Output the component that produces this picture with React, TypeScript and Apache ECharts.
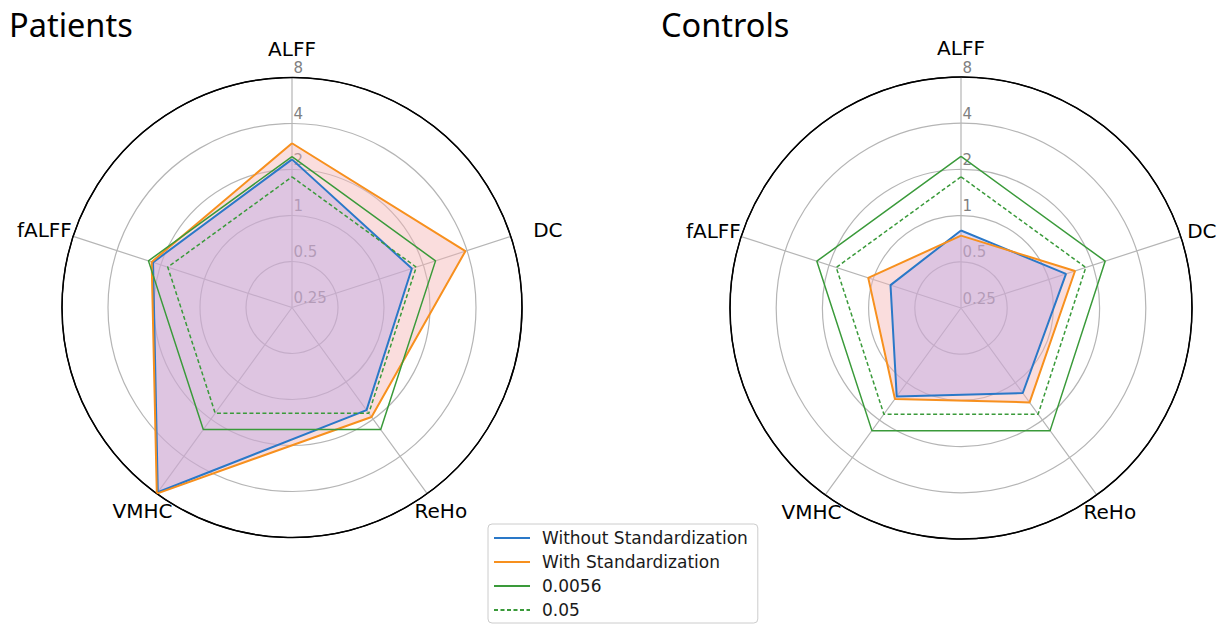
import { useEffect, useRef } from 'react';
import * as echarts from 'echarts';

// Radar axes, clockwise from the top
const AXIS_NAMES = ['ALFF', 'DC', 'ReHo', 'VMHC', 'fALFF'];
// Radial (log2) tick values
const RADIAL_TICKS = [0.25, 0.5, 1, 2, 4, 8];
const SERIES_NAMES = ['Without Standardization', 'With Standardization', '0.0056', '0.05'];
const PANEL_TITLES = ['Patients', 'Controls'];

// Patients
const patientsWithout = [2.33, 1.67, 1.69, 7.8, 2.26];
const patientsWith = [2.97, 3.9, 1.92, 8.0, 2.31];
// Controls
const controlsWithout = [0.8, 1.31, 1.21, 1.29, 0.76];
const controlsWith = [0.74, 1.51, 1.44, 1.35, 1.08];
// Significance thresholds
const threshold0056 = [2.43, 2.43, 2.43, 2.43, 2.43];
const threshold005 = [1.79, 1.79, 1.79, 1.79, 1.79];

const PANEL_DATA = [
  { without: patientsWithout, withStd: patientsWith },
  { without: controlsWithout, withStd: controlsWith },
];

// Layout / style
const PANEL_LAYOUT = [
  { center: [292, 307.5], radius: 230, titleLeft: 9, dcPadLeft: 51 },
  { center: [961, 308], radius: 231, titleLeft: 661, dcPadLeft: 36 },
];
const BLUE = '#2a78c8';
const ORANGE = '#f7901e';
const GREEN = '#3a9a3a';
const GRID_GRAY = '#b5b5b5';
const TICK_GRAY = '#7f7f7f';
const FILL_ORANGE = 'rgba(245,180,180,0.45)';
const FILL_BLUE = 'rgba(179,163,233,0.4)';
const FONT = 'DejaVu Sans';
const NAME_SIZE = 20;

// padding [top, right, bottom, left] that places each spoke name
// (the top spoke's name is the radius axis name)
const NAME_PADDING: Record<string, number[]> = {
  DC: [0, 0, 31, 51],
  ReHo: [32, 0, 0, 5],
  VMHC: [32, 2, 0, 0],
  fALFF: [0, 30, 31, 0],
};

function closedRing(values: number[]) {
  const step = 360 / values.length;
  const pts = values.map((v, i) => [v, i * step]);
  pts.push([values[0], 360]);
  return pts;
}

function buildOption() {
  const step = 360 / AXIS_NAMES.length;

  const polar = PANEL_LAYOUT.map((p) => ({ center: p.center, radius: p.radius }));

  const angleAxis = PANEL_LAYOUT.map((p, pi) => {
    const rich: Record<string, any> = {};
    AXIS_NAMES.forEach((n, i) => {
      if (!NAME_PADDING[n]) return;
      const pad = n === 'DC' ? [0, 0, 31, p.dcPadLeft] : NAME_PADDING[n];
      rich['k' + i] = {
        fontFamily: FONT,
        fontSize: NAME_SIZE,
        color: '#000',
        padding: pad,
      };
    });
    return {
      polarIndex: pi,
      type: 'value',
      min: 0,
      max: 360,
      interval: step,
      startAngle: 90,
      clockwise: true,
      axisLine: { show: true, lineStyle: { color: '#000', width: 1.5 } },
      axisTick: { show: false },
      splitLine: { show: true, lineStyle: { color: GRID_GRAY, width: 1.2 } },
      axisLabel: {
        show: true,
        margin: 200 - p.radius,
        formatter: (v: number) => {
          const idx = Math.round(v / step);
          if (idx <= 0 || idx >= AXIS_NAMES.length) return '';
          return `{k${idx}|${AXIS_NAMES[idx]}}`;
        },
        rich,
      },
    };
  });

  const radiusAxis = PANEL_LAYOUT.map((_, pi) => ({
    polarIndex: pi,
    type: 'log',
    logBase: 2,
    min: RADIAL_TICKS[0],
    max: RADIAL_TICKS[RADIAL_TICKS.length - 1],
    splitNumber: RADIAL_TICKS.length - 1,
    name: AXIS_NAMES[0],
    nameLocation: 'end',
    nameGap: 12,
    nameTextStyle: { fontFamily: FONT, fontSize: NAME_SIZE, color: '#000' },
    axisLine: { show: false },
    axisTick: { show: false },
    splitLine: {
      show: true,
      lineStyle: {
        color: RADIAL_TICKS.map((_, i) => (i === RADIAL_TICKS.length - 1 ? '#000' : GRID_GRAY)),
        width: 1.2,
      },
    },
    axisLabel: {
      show: true,
      color: TICK_GRAY,
      fontFamily: FONT,
      fontSize: 15,
      margin: -1.5,
      align: 'left',
      verticalAlign: 'bottom',
      lineHeight: 19,
      formatter: (v: number) => String(v),
    },
  }));

  const series: any[] = [];
  PANEL_DATA.forEach((d, pi) => {
    const common = {
      type: 'line',
      coordinateSystem: 'polar',
      polarIndex: pi,
      symbol: 'none',
      showSymbol: false,
      clip: false,
      silent: true,
      animation: false,
    };
    // filled areas underneath the outlines
    series.push({
      ...common,
      id: `fill-with-${pi}`,
      data: closedRing(d.withStd),
      lineStyle: { width: 0, opacity: 0 },
      areaStyle: { color: FILL_ORANGE, opacity: 1, origin: 'start' },
      z: 1,
    });
    series.push({
      ...common,
      id: `fill-without-${pi}`,
      data: closedRing(d.without),
      lineStyle: { width: 0, opacity: 0 },
      areaStyle: { color: FILL_BLUE, opacity: 1, origin: 'start' },
      z: 1,
    });
    // outlines
    series.push({
      ...common,
      name: SERIES_NAMES[0],
      data: closedRing(d.without),
      itemStyle: { color: BLUE },
      lineStyle: { color: BLUE, width: 2 },
      z: 3,
    });
    series.push({
      ...common,
      name: SERIES_NAMES[1],
      data: closedRing(d.withStd),
      itemStyle: { color: ORANGE },
      lineStyle: { color: ORANGE, width: 2 },
      z: 3,
    });
    series.push({
      ...common,
      name: SERIES_NAMES[2],
      data: closedRing(threshold0056),
      itemStyle: { color: GREEN },
      lineStyle: { color: GREEN, width: 1.5 },
      z: 3,
    });
    series.push({
      ...common,
      name: SERIES_NAMES[3],
      data: closedRing(threshold005),
      itemStyle: { color: GREEN },
      lineStyle: { color: GREEN, width: 1.5, type: [4, 2.5] },
      z: 3,
    });
  });

  return {
    animation: false,
    backgroundColor: '#fff',
    title: PANEL_TITLES.map((t, i) => ({
      text: t,
      left: PANEL_LAYOUT[i].titleLeft,
      top: 4,
      padding: 0,
      textStyle: {
        fontFamily: 'Noto Sans',
        fontSize: 32.5,
        fontWeight: 'normal',
        color: '#000',
        lineHeight: 40,
      },
    })),
    legend: {
      data: SERIES_NAMES,
      orient: 'vertical',
      left: 488,
      top: 524,
      itemWidth: 36,
      itemHeight: 14,
      itemGap: 4,
      padding: [4, 10, 3, 5],
      borderColor: '#cccccc',
      borderWidth: 1,
      borderRadius: 4,
      backgroundColor: '#ffffff',
      selectedMode: false,
      itemStyle: { opacity: 0 },
      textStyle: {
        fontFamily: FONT,
        fontSize: 17,
        color: '#1a1a1a',
        lineHeight: 20,
        padding: [0, 0, 0, 7],
      },
    },
    polar,
    angleAxis,
    radiusAxis,
    series,
  };
}

export default function App() {
  const ref = useRef<HTMLDivElement>(null);
  useEffect(() => {
    document.body.style.margin = '0';
    if (!ref.current) return;
    const chart = echarts.init(ref.current, undefined, { renderer: 'svg' });
    chart.setOption(buildOption() as any);
    return () => chart.dispose();
  }, []);
  return <div ref={ref} style={{ width: 1217, height: 624 }} />;
}
